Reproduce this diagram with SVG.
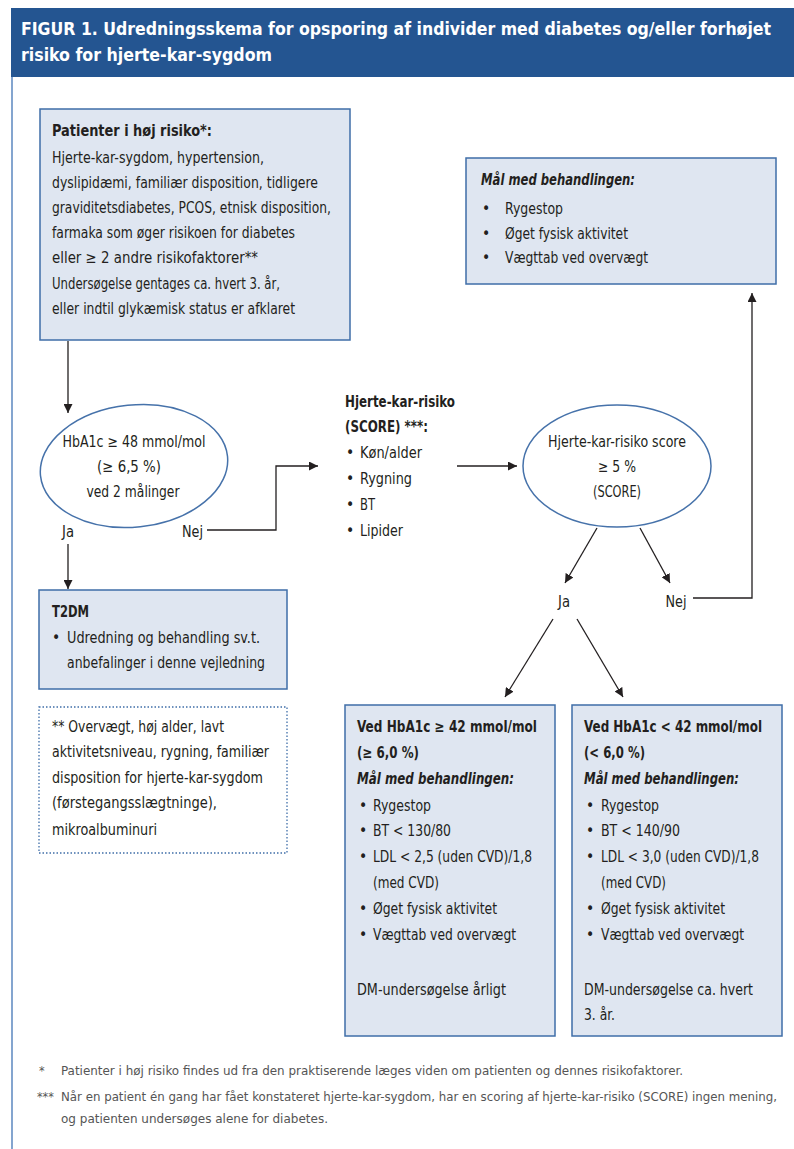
<svg xmlns="http://www.w3.org/2000/svg" width="794" height="1149" viewBox="0 0 794 1149">
<style>
text{font-family:"Liberation Sans Narrow","DejaVu Sans Condensed","Liberation Sans",sans-serif;fill:#231f20;font-size:15.5px}
.b{font-weight:bold}
.bi{font-weight:bold;font-style:italic}
.c{text-anchor:middle}
.box{fill:#dfe6f1;stroke:#3f6ea8;stroke-width:1.5}
.ell{fill:#fff;stroke:#4672aa;stroke-width:1.5}
.dot{fill:none;stroke:#3f6ea8;stroke-width:1.3;stroke-dasharray:1.5 2}
.ln{fill:none;stroke:#231f20;stroke-width:1.3}
.hd{fill:#fff;font-weight:bold;font-size:18px}
.fn{fill:#555;font-size:12.5px}
</style>
<defs>
<marker id="ah" viewBox="0 0 10 10" refX="10" refY="5" markerWidth="9" markerHeight="9" markerUnits="userSpaceOnUse" orient="auto">
<path d="M0,0 L10,5 L0,10 Z" fill="#231f20"/>
</marker>
</defs>
<rect width="794" height="1149" fill="#fff"/>
<g id="header">
<rect x="11" y="8" width="783" height="69" fill="#245591"/>
<text class="hd" x="21" y="35" textLength="750" lengthAdjust="spacingAndGlyphs">FIGUR 1. Udredningsskema for opsporing af individer med diabetes og/eller forhøjet</text>
<text class="hd" x="21" y="61" textLength="251" lengthAdjust="spacingAndGlyphs">risiko for hjerte-kar-sygdom</text>
</g>
<line x1="12" y1="77" x2="12" y2="1149" stroke="#5b87bf" stroke-width="1.5"/>

<g id="connectors">
<line class="ln" x1="68" y1="341" x2="68" y2="413" marker-end="url(#ah)"/>
<line class="ln" x1="68" y1="544" x2="68" y2="589" marker-end="url(#ah)"/>
<polyline class="ln" points="207,530 276,530 276,466 318,466" marker-end="url(#ah)"/>
<line class="ln" x1="457" y1="466" x2="517" y2="466" marker-end="url(#ah)"/>
<line class="ln" x1="597" y1="528" x2="565" y2="583" marker-end="url(#ah)"/>
<line class="ln" x1="640" y1="528" x2="670" y2="583" marker-end="url(#ah)"/>
<polyline class="ln" points="693,598 752,598 752,293" marker-end="url(#ah)"/>
<line class="ln" x1="553" y1="619" x2="505" y2="697" marker-end="url(#ah)"/>
<line class="ln" x1="577" y1="619" x2="623" y2="697" marker-end="url(#ah)"/>
<text x="62" y="537" textLength="12" lengthAdjust="spacingAndGlyphs">Ja</text>
<text x="182" y="537" textLength="21" lengthAdjust="spacingAndGlyphs">Nej</text>
<text class="c" x="564" y="607" textLength="12" lengthAdjust="spacingAndGlyphs">Ja</text>
<text class="c" x="676" y="607" textLength="21" lengthAdjust="spacingAndGlyphs">Nej</text>
</g>

<g id="risk-patients">
<rect class="box" x="40" y="109" width="310" height="231"/>
<text class="b" x="52" y="136" textLength="160" lengthAdjust="spacingAndGlyphs">Patienter i høj risiko*:</text>
<text x="52" y="163" textLength="212" lengthAdjust="spacingAndGlyphs">Hjerte-kar-sygdom, hypertension,</text>
<text x="52" y="188" textLength="266" lengthAdjust="spacingAndGlyphs">dyslipidæmi, familiær disposition, tidligere</text>
<text x="52" y="213" textLength="279" lengthAdjust="spacingAndGlyphs">graviditetsdiabetes, PCOS, etnisk disposition,</text>
<text x="52" y="238" textLength="243" lengthAdjust="spacingAndGlyphs">farmaka som øger risikoen for diabetes</text>
<text x="52" y="263" textLength="206" lengthAdjust="spacingAndGlyphs">eller ≥ 2 andre risikofaktorer**</text>
<text x="52" y="289" textLength="228" lengthAdjust="spacingAndGlyphs">Undersøgelse gentages ca. hvert 3. år,</text>
<text x="52" y="314" textLength="243" lengthAdjust="spacingAndGlyphs">eller indtil glykæmisk status er afklaret</text>
</g>

<g id="goals-top">
<rect class="box" x="466" y="158" width="310" height="126"/>
<text class="bi" x="481" y="185" textLength="154" lengthAdjust="spacingAndGlyphs">Mål med behandlingen:</text>
<text x="482" y="214">•</text><text x="505" y="214" textLength="58" lengthAdjust="spacingAndGlyphs">Rygestop</text>
<text x="482" y="239">•</text><text x="505" y="239" textLength="123" lengthAdjust="spacingAndGlyphs">Øget fysisk aktivitet</text>
<text x="482" y="263">•</text><text x="505" y="263" textLength="143" lengthAdjust="spacingAndGlyphs">Vægttab ved overvægt</text>
</g>

<g id="hba1c">
<ellipse class="ell" cx="134" cy="466" rx="94" ry="61" transform="rotate(-6 134 466)"/>
<text class="c" x="134" y="447" textLength="143" lengthAdjust="spacingAndGlyphs">HbA1c ≥ 48 mmol/mol</text>
<text class="c" x="129" y="472" textLength="64" lengthAdjust="spacingAndGlyphs">(≥ 6,5 %)</text>
<text class="c" x="133" y="497" textLength="93" lengthAdjust="spacingAndGlyphs">ved 2 målinger</text>
</g>

<g id="score-factors">
<text class="b" x="345" y="407" textLength="110" lengthAdjust="spacingAndGlyphs">Hjerte-kar-risiko</text>
<text class="b" x="345" y="432" textLength="83" lengthAdjust="spacingAndGlyphs">(SCORE) ***:</text>
<text x="346" y="458">•</text><text x="360" y="458" textLength="62" lengthAdjust="spacingAndGlyphs">Køn/alder</text>
<text x="346" y="484">•</text><text x="360" y="484" textLength="52" lengthAdjust="spacingAndGlyphs">Rygning</text>
<text x="346" y="510">•</text><text x="360" y="510" textLength="15" lengthAdjust="spacingAndGlyphs">BT</text>
<text x="346" y="536">•</text><text x="360" y="536" textLength="43" lengthAdjust="spacingAndGlyphs">Lipider</text>
</g>

<g id="score-ellipse">
<ellipse class="ell" cx="617" cy="466" rx="94" ry="61"/>
<text class="c" x="617" y="447" textLength="138" lengthAdjust="spacingAndGlyphs">Hjerte-kar-risiko score</text>
<text class="c" x="617" y="472" textLength="38" lengthAdjust="spacingAndGlyphs">≥ 5 %</text>
<text class="c" x="617" y="497" textLength="48" lengthAdjust="spacingAndGlyphs">(SCORE)</text>
</g>

<g id="t2dm">
<rect class="box" x="39" y="590" width="248" height="99"/>
<text class="b" x="52" y="617" textLength="37" lengthAdjust="spacingAndGlyphs">T2DM</text>
<text x="52" y="643">•</text><text x="67" y="643" textLength="193" lengthAdjust="spacingAndGlyphs">Udredning og behandling sv.t.</text>
<text x="67" y="668" textLength="198" lengthAdjust="spacingAndGlyphs">anbefalinger i denne vejledning</text>
</g>

<g id="riskfactors-note">
<rect class="dot" x="39" y="707" width="248" height="146"/>
<text x="52" y="732" textLength="172" lengthAdjust="spacingAndGlyphs">** Overvægt, høj alder, lavt</text>
<text x="52" y="757" textLength="217" lengthAdjust="spacingAndGlyphs">aktivitetsniveau, rygning, familiær</text>
<text x="52" y="783" textLength="211" lengthAdjust="spacingAndGlyphs">disposition for hjerte-kar-sygdom</text>
<text x="52" y="808" textLength="165" lengthAdjust="spacingAndGlyphs">(førstegangsslægtninge),</text>
<text x="52" y="835" textLength="105" lengthAdjust="spacingAndGlyphs">mikroalbuminuri</text>
</g>

<g id="high-hba1c">
<rect class="box" x="345" y="705" width="210" height="331"/>
<text class="b" x="357" y="732" textLength="180" lengthAdjust="spacingAndGlyphs">Ved HbA1c ≥ 42 mmol/mol</text>
<text class="b" x="357" y="758" textLength="62" lengthAdjust="spacingAndGlyphs">(≥ 6,0 %)</text>
<text class="bi" x="357" y="784" textLength="157" lengthAdjust="spacingAndGlyphs">Mål med behandlingen:</text>
<text x="359" y="811">•</text><text x="373" y="811" textLength="58" lengthAdjust="spacingAndGlyphs">Rygestop</text>
<text x="359" y="836">•</text><text x="373" y="836" textLength="78" lengthAdjust="spacingAndGlyphs">BT &lt; 130/80</text>
<text x="359" y="862">•</text><text x="373" y="862" textLength="159" lengthAdjust="spacingAndGlyphs">LDL &lt; 2,5 (uden CVD)/1,8</text>
<text x="373" y="888" textLength="66" lengthAdjust="spacingAndGlyphs">(med CVD)</text>
<text x="359" y="914">•</text><text x="373" y="914" textLength="124" lengthAdjust="spacingAndGlyphs">Øget fysisk aktivitet</text>
<text x="359" y="940">•</text><text x="373" y="940" textLength="143" lengthAdjust="spacingAndGlyphs">Vægttab ved overvægt</text>
<text x="357" y="995" textLength="149" lengthAdjust="spacingAndGlyphs">DM-undersøgelse årligt</text>
</g>

<g id="low-hba1c">
<rect class="box" x="572" y="705" width="210" height="331"/>
<text class="b" x="584" y="732" textLength="178" lengthAdjust="spacingAndGlyphs">Ved HbA1c &lt; 42 mmol/mol</text>
<text class="b" x="584" y="758" textLength="61" lengthAdjust="spacingAndGlyphs">(&lt; 6,0 %)</text>
<text class="bi" x="584" y="784" textLength="155" lengthAdjust="spacingAndGlyphs">Mål med behandlingen:</text>
<text x="586" y="811">•</text><text x="601" y="811" textLength="58" lengthAdjust="spacingAndGlyphs">Rygestop</text>
<text x="586" y="836">•</text><text x="601" y="836" textLength="79" lengthAdjust="spacingAndGlyphs">BT &lt; 140/90</text>
<text x="586" y="862">•</text><text x="601" y="862" textLength="158" lengthAdjust="spacingAndGlyphs">LDL &lt; 3,0 (uden CVD)/1,8</text>
<text x="601" y="888" textLength="65" lengthAdjust="spacingAndGlyphs">(med CVD)</text>
<text x="586" y="914">•</text><text x="601" y="914" textLength="124" lengthAdjust="spacingAndGlyphs">Øget fysisk aktivitet</text>
<text x="586" y="940">•</text><text x="601" y="940" textLength="143" lengthAdjust="spacingAndGlyphs">Vægttab ved overvægt</text>
<text x="584" y="995" textLength="169" lengthAdjust="spacingAndGlyphs">DM-undersøgelse ca. hvert</text>
<text x="584" y="1020" textLength="31" lengthAdjust="spacingAndGlyphs">3. år.</text>
</g>

<g id="footnotes">
<text class="fn" x="39" y="1075">*</text>
<text class="fn" x="61" y="1075" textLength="622" lengthAdjust="spacingAndGlyphs">Patienter i høj risiko findes ud fra den praktiserende læges viden om patienten og dennes risikofaktorer.</text>
<text class="fn" x="37" y="1101">***</text>
<text class="fn" x="61" y="1101" textLength="716" lengthAdjust="spacingAndGlyphs">Når en patient én gang har fået konstateret hjerte-kar-sygdom, har en scoring af hjerte-kar-risiko (SCORE) ingen mening,</text>
<text class="fn" x="61" y="1123" textLength="267" lengthAdjust="spacingAndGlyphs">og patienten undersøges alene for diabetes.</text>
</g>
</svg>
